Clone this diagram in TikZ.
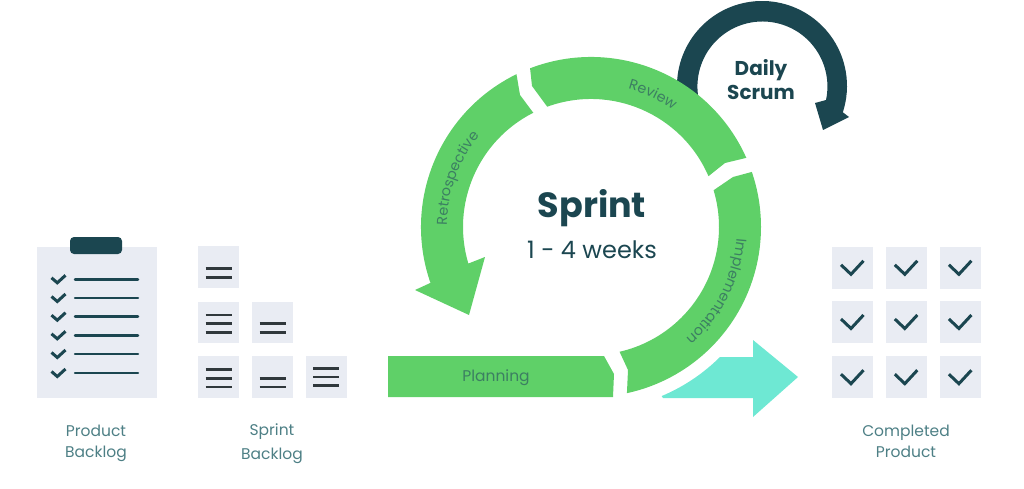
\documentclass[tikz,border=0pt]{standalone}
\usepackage{fontspec}
\setmainfont{Poppins}
\usetikzlibrary{decorations.text}
\definecolor{leaf}{HTML}{5FD068}
\definecolor{deep}{HTML}{1B4650}
\definecolor{mint}{HTML}{6EE8D3}
\definecolor{tilebg}{HTML}{E9ECF3}
\definecolor{barink}{HTML}{30383C}
\definecolor{capink}{HTML}{4D7F85}
\definecolor{bandink}{HTML}{3C7F62}
\tikzset{
  tilebox/.style={fill=tilebg,draw=none,inner sep=0pt,minimum width=41.5pt,minimum height=41.5pt},
  band/.style={fill=leaf,draw=none},
  caption/.style={text=capink,align=center,font=\fontsize{15.5}{21}\selectfont,inner sep=0pt},
  bar/.style={draw=barink,line width=2.9pt},
  ruleline/.style={draw=deep,line width=2.5pt,line cap=round},
  tick/.style={draw=deep,line width=3pt,line join=miter},
  bandtext/.style={decorate,decoration={text along path,text align=center,
    text color=bandink,text={|\fontsize{14.3}{17}\selectfont|#1}}}
}
\begin{document}
\begin{tikzpicture}[x=1pt,y=1pt]
\useasboundingbox (0,-489) rectangle (1024,0);

% Daily Scrum loop, tucked behind the ring
\fill[deep] (762,-86) ++(190:85) arc[start angle=190,end angle=-18,radius=85pt]
  -- (849,-117) -- (823,-130) -- (815,-103) -- (826,-100)
  arc[start angle=-12,end angle=190,radius=65pt] -- cycle;

% Delivery arrow
\fill[mint] (663,-398) -- (753,-398) -- (753,-417) -- (798,-377) -- (753,-340) -- (753,-357) -- (720,-357)
  arc[start angle=-45.2,end angle=-67.2,radius=184pt] -- cycle;

% Planning bar
\fill[band] (388,-356) -- (604,-356) -- (614,-374) -- (613,-397) -- (388,-397) -- cycle;
\node[text=bandink,font=\fontsize{15.5}{18}\selectfont,inner sep=0pt] (planning) at (496,-378) {Planning};

% Ring segments around the sprint centre
\begin{scope}[shift={(591,-227)}]
  \fill[band] (111:170) arc[start angle=111,end angle=24,radius=170pt]
    -- (134,64) -- (23.4:128) arc[start angle=23.4,end angle=110,radius=128pt]
    -- (-59,141) -- cycle;
  \fill[band] (18.9:170) arc[start angle=18.9,end angle=-77.8,radius=170pt]
    -- (37,-143) -- (-77.1:128) arc[start angle=-77.1,end angle=16.7,radius=128pt]
    -- (142,50) -- cycle;
  \fill[band] (116:170) arc[start angle=116,end angle=199.2,radius=170pt]
    -- (-176,-63) -- (-122,-88) -- (-106,-30) -- (196.6:128)
    arc[start angle=196.6,end angle=116.8,radius=128pt]
    -- (-71,132) -- cycle;
  \path[bandtext=Review] (105:143) arc[start angle=105,end angle=25,radius=143pt];
  \path[bandtext=Implementation] (43:146) arc[start angle=43,end angle=-97,radius=146pt];
  \path[bandtext=Retrospective] (220:144) arc[start angle=220,end angle=100,radius=144pt];
\end{scope}

% Centre and loop titles
\node[text=deep,font=\fontsize{35}{41}\selectfont\bfseries,inner sep=0pt] (sprint) at (592,-208) {Sprint};
\node[text=deep,font=\fontsize{24}{28}\selectfont,inner sep=0pt] (weeks) at (592,-250) {1 - 4 weeks};
\node[text=deep,font=\fontsize{20}{24}\selectfont\bfseries,align=center,inner sep=0pt] (daily) at (761,-80) {Daily\\Scrum};

% Clipboard
\fill[tilebg] (36.7,-246.7) rectangle (156.7,-397.7);
\fill[deep,rounded corners=4pt] (70,-254) -- (70,-237) -- (122,-237) -- (122,-254) -- cycle;
\foreach \ry in {279.3,298,316.7,335.3,354,373}{
  \draw[ruleline] (75,-\ry) -- (138,-\ry);
  \draw[tick] (51.5,-\ry+1.5) -- (57.3,-\ry-3.5) -- (65.5,-\ry+4);
}

% Sprint backlog tiles
\node[tilebox] (s1a) at (218.7,-267.2) {};
\node[tilebox] (s2a) at (218.7,-322.5) {};
\node[tilebox] (s2b) at (272.5,-322.5) {};
\node[tilebox] (s3a) at (218.7,-377.2) {};
\node[tilebox] (s3b) at (272.5,-377.2) {};
\node[tilebox] (s3c) at (326.4,-377.2) {};
\foreach \bx/\by in {218.7/268.7,218.7/277.3,
  218.7/315,218.7/323.7,218.7/332.3,
  272.5/323.7,272.5/332.3,
  218.7/369.7,218.7/378.3,218.7/387,
  272.5/378.3,272.5/387,
  326.4/368.3,326.4/377,326.4/385.7}{
  \draw[bar] (\bx-13,-\by) -- (\bx+13,-\by);
}

% Completed product tiles
\foreach \cy/\rn in {267.8/a,322/b,377.2/c}{
  \foreach \cxx/\cn in {852.5/1,906.3/2,960.4/3}{
    \node[tilebox] (done\rn\cn) at (\cxx,-\cy) {};
    \draw[tick] (\cxx-11.5,-\cy+3) -- (\cxx-1.5,-\cy-6.5) -- (\cxx+11,-\cy+7);
  }
}

% Captions
\node[caption] (productcap) at (96,-443) {Product\\Backlog};
\node[caption,font=\fontsize{15.5}{24}\selectfont] (sprintcap) at (272,-443.5) {Sprint\\Backlog};
\node[caption] (completedcap) at (906,-441.5) {Completed\\Product};
\end{tikzpicture}
\end{document}
